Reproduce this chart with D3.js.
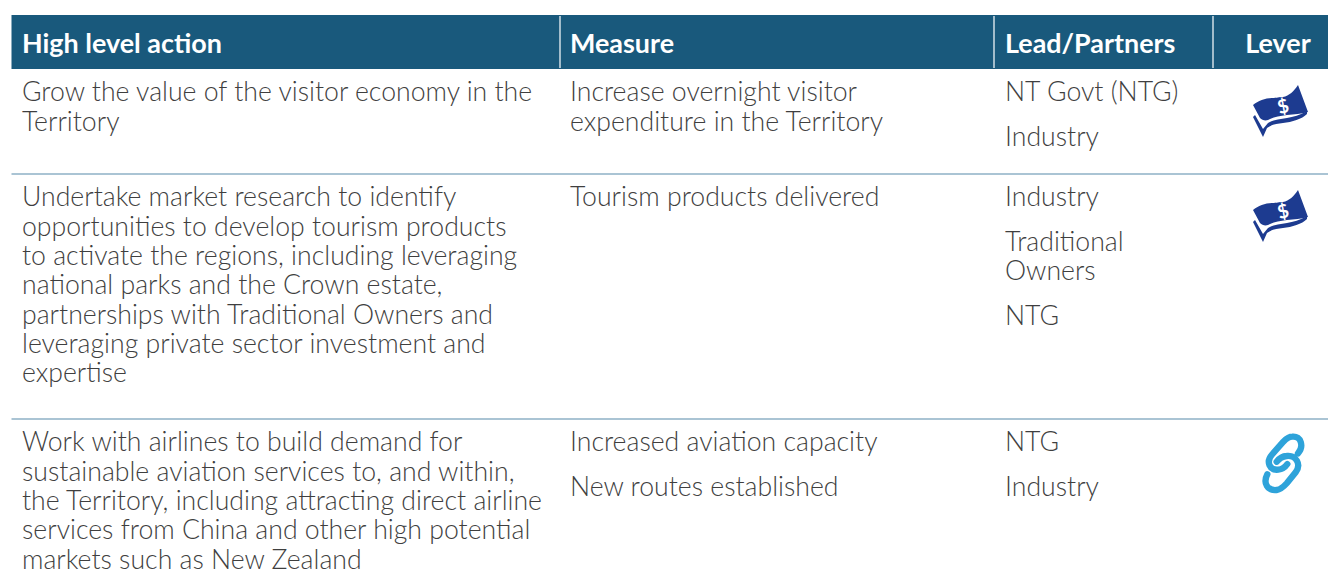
<!DOCTYPE html>
<html>
<head>
<meta charset="utf-8">
<script src="https://cdn.jsdelivr.net/npm/d3@7"></script>
<style>
  html, body { margin: 0; padding: 0; background: #fff; }
  svg { display: block; }
  text { font-family: Lato, sans-serif; }
</style>
</head>
<body>
<svg width="1328" height="588"></svg>
<script>
var headers = ["High level action", "Measure", "Lead/Partners", "Lever"];

// each cell is a list of paragraphs, each paragraph a list of lines
var actions = [
  [["Grow the value of the visitor economy in the", "Territory"]],
  [["Undertake market research to identify", "opportunities to develop tourism products", "to activate the regions, including leveraging", "national parks and the Crown estate,", "partnerships with Traditional Owners and", "leveraging private sector investment and", "expertise"]],
  [["Work with airlines to build demand for", "sustainable aviation services to, and within,", "the Territory, including attracting direct airline", "services from China and other high potential", "markets such as New Zealand"]]
];
var measures = [
  [["Increase overnight visitor", "expenditure in the Territory"]],
  [["Tourism products delivered"]],
  [["Increased aviation capacity"], ["New routes established"]]
];
var leads = [
  [["NT Govt (NTG)"], ["Industry"]],
  [["Industry"], ["Traditional", "Owners"], ["NTG"]],
  [["NTG"], ["Industry"]]
];
var levers = ["money", "money", "link"];

var svg = d3.select("svg");

var left = 11.5, right = 1328, headTop = 15, headBottom = 69;
var lineH = 29.3, paraGap = 15.2, firstBase = 32.4;
var rowTops = [69, 174, 419];
var dividers = [560, 994, 1213];

var colX = d3.scaleOrdinal().domain(headers).range([22, 570, 1005, 1278]);

svg.append("rect")
  .attr("x", left).attr("y", headTop)
  .attr("width", right - left).attr("height", headBottom - headTop)
  .attr("fill", "#19597c");

svg.selectAll(".divider").data(dividers).join("line")
  .attr("class", "divider")
  .attr("x1", function(d) { return d; }).attr("x2", function(d) { return d; })
  .attr("y1", headTop + 1).attr("y2", headBottom - 1)
  .attr("stroke", "#dfe8ee").attr("stroke-width", 1.4);

svg.selectAll(".head").data(headers).join("text")
  .attr("class", "head")
  .attr("x", function(d) { return colX(d); })
  .attr("y", 53)
  .attr("text-anchor", function(d) { return d == "Lever" ? "middle" : "start"; })
  .attr("font-size", 26.9).attr("font-weight", 700)
  .attr("fill", "#fff")
  .text(function(d) { return d; });

svg.selectAll(".rule").data(rowTops.slice(1)).join("line")
  .attr("class", "rule")
  .attr("x1", left).attr("x2", right)
  .attr("y1", function(d) { return d; }).attr("y2", function(d) { return d; })
  .attr("stroke", "#8eb0c6").attr("stroke-width", 1.5);

function drawColumn(cells, head) {
  cells.forEach(function(paragraphs, r) {
    var y = rowTops[r] + firstBase;
    paragraphs.forEach(function(lines) {
      lines.forEach(function(line) {
        svg.append("text")
          .attr("x", colX(head)).attr("y", y)
          .attr("font-size", 26.65).attr("font-weight", 300)
          .attr("fill", "#3f3f3f")
          .text(line);
        y += lineH;
      });
      y += paraGap;
    });
  });
}
drawColumn(actions, headers[0]);
drawColumn(measures, headers[1]);
drawColumn(leads, headers[2]);

function drawMoney(g) {
  // back note
  g.append("path")
    .attr("d", "M-27 7 L-17 27 L-13 18 C-8 14 -3 14 3 13 C12 12 22 9 27 4 L27 1 C20 5 13 7 7 8 C0 9 -8 10 -12 13 L-17 19 L-25 5 Z")
    .attr("fill", "#1d3b90");
  // front note
  g.append("path")
    .attr("d", "M-27 -5 C-22 -9 -15 -12 -8 -12 C-3 -12 -1 -13 3 -13 C9 -14 14 -19 18 -25 L28 2 C21 4 14 4 7 5 C-1 6 -6 7 -12 10 C-15 11 -18 10 -20 8 Z")
    .attr("fill", "#1d3b90");
  g.append("text")
    .attr("x", 3).attr("y", 3)
    .attr("text-anchor", "middle")
    .attr("font-size", 19).attr("font-weight", 700)
    .attr("fill", "#fff")
    .attr("transform", "rotate(-15 3 -4)")
    .text("$");
}

function drawLink(g) {
  var paths = [
    "M204 85 C222 65 214 32 187 35 C177 35 170 40 160 50 L125 90 C108 110 118 137 145 134 C155 133 165 127 172 117",
    "M112 148 C98 175 113 198 140 195 C155 193 163 183 171 174 L197 142 C215 118 198 90 170 93 C155 94 148 100 140 110"
  ];
  g.selectAll("path").data(paths).join("path")
    .attr("d", function(d) { return d; })
    .attr("fill", "none")
    .attr("stroke", "#2ea3da")
    .attr("stroke-width", 19)
    .attr("stroke-linecap", "round");
}

levers.forEach(function(kind, r) {
  var g = svg.append("g");
  if (kind == "money") {
    g.attr("transform", "translate(1280," + (rowTops[r] + 41) + ")");
    drawMoney(g);
  } else {
    // link icon outline is in 3x units
    g.attr("transform", "translate(1230," + (rowTops[r] + 6) + ") scale(0.3333)");
    drawLink(g);
  }
});
</script>
</body>
</html>
